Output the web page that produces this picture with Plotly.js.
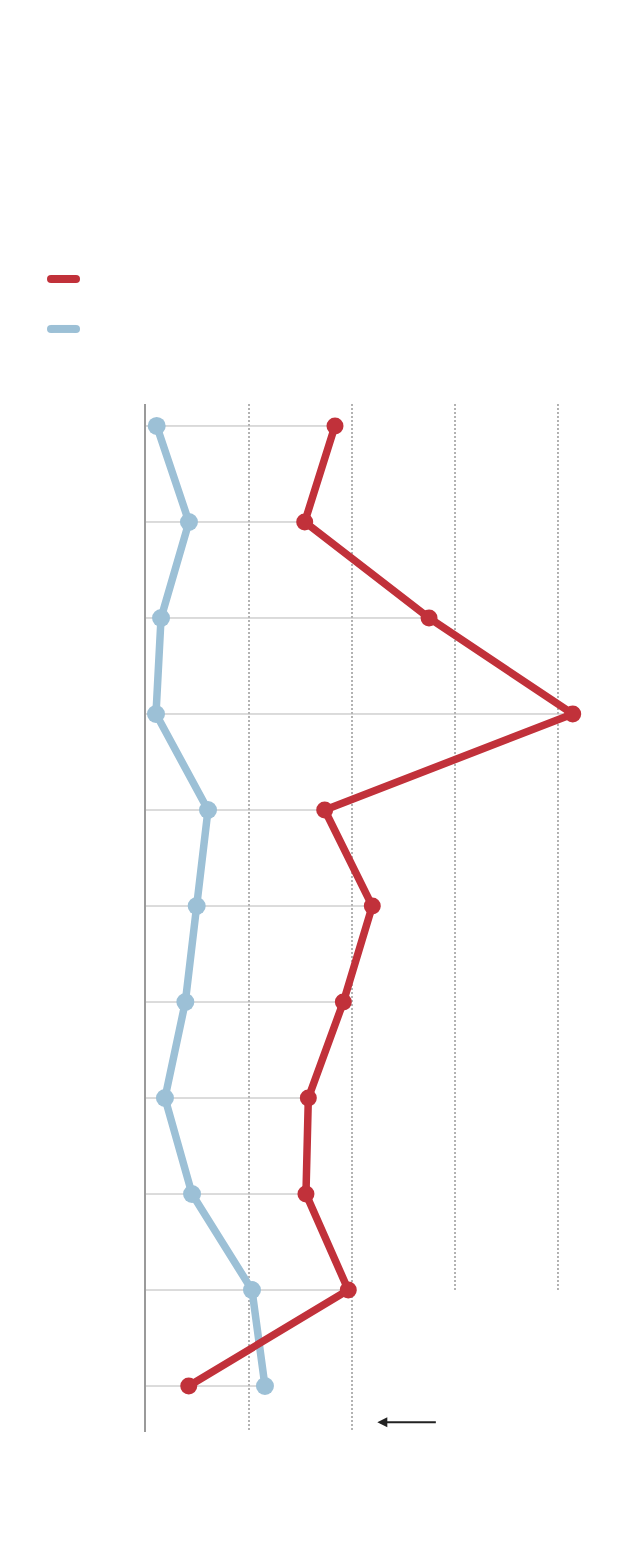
<!DOCTYPE html>
<html>
<head>
<meta charset="utf-8">
<script src="https://cdn.plot.ly/plotly-3.0.1.min.js"></script>
<style>html,body{margin:0;padding:0;background:#fff;}#chart{width:640px;height:1560px;}</style>
</head>
<body>
<div id="chart"></div>
<script>
// Row positions (top to bottom) – the reference shows no category labels
var rows = [0, 1, 2, 3, 4, 5, 6, 7, 8, 9, 10];
// Series values (units: one dotted gridline = 10)
var redValues  = [18.35, 15.41, 27.48, 41.43, 17.35, 21.97, 19.16, 15.76, 15.53, 19.64, 4.15];
var blueValues = [1.04, 4.17, 1.46, 0.97, 6.02, 4.92, 3.82, 1.84, 4.47, 10.29, 11.55];
// Dotted vertical gridlines
var gridValues = [10, 20, 30, 40];

var RED = '#c1313a';
var BLUE = '#9cc0d6';

// Horizontal connector gridlines from 0 to the larger of the two values per row
var gx = [], gy = [];
rows.forEach(function (r, i) {
  gx.push(0, Math.max(redValues[i], blueValues[i]), null);
  gy.push(r, r, null);
});

var yTop = -0.229, yBottom = 10.479;
var lastFullRow = 9;

var traces = [
  {x: gx, y: gy, mode: 'lines', line: {color: '#b8b8b8', width: 1},
   hoverinfo: 'skip', showlegend: false},
  {x: blueValues, y: rows, mode: 'lines+markers', name: '',
   line: {color: BLUE, width: 7.5}, marker: {color: BLUE, size: 18},
   showlegend: false},
  {x: redValues, y: rows, mode: 'lines+markers', name: '',
   line: {color: RED, width: 7.5}, marker: {color: RED, size: 17},
   showlegend: false}
];

var shapes = [];
gridValues.forEach(function (v) {
  shapes.push({
    type: 'line', xref: 'x', yref: 'y', layer: 'below',
    x0: v, x1: v, y0: yTop, y1: (v > 20 ? lastFullRow : yBottom),
    line: {color: '#666666', width: 1, dash: '2px,2px'}
  });
});

// Legend swatches (rounded bars)
function swatch(color, yPaper) {
  var base = {xref: 'paper', yref: 'paper', xsizemode: 'pixel', ysizemode: 'pixel',
              xanchor: 0, yanchor: yPaper, fillcolor: color, line: {width: 0}};
  shapes.push(Object.assign({type: 'rect', x0: -95, x1: -70, y0: -4, y1: 4}, base));
  shapes.push(Object.assign({type: 'circle', x0: -99, x1: -91, y0: -4, y1: 4}, base));
  shapes.push(Object.assign({type: 'circle', x0: -74, x1: -66, y0: -4, y1: 4}, base));
}
swatch(RED, 1.1216);
swatch(BLUE, 1.0730);

var layout = {
  width: 640, height: 1560,
  margin: {l: 146, r: 20, t: 404, b: 128},
  paper_bgcolor: '#ffffff', plot_bgcolor: '#ffffff',
  showlegend: false,
  xaxis: {range: [0, 46.02], showgrid: false, zeroline: false, showticklabels: false,
          ticks: '', showline: false, fixedrange: true},
  yaxis: {range: [yBottom, yTop], showgrid: false, zeroline: false, showticklabels: false,
          ticks: '', showline: true, linecolor: '#9a9a9a', linewidth: 2, fixedrange: true},
  shapes: shapes,
  annotations: [{
    xref: 'x', yref: 'y', x: 22.46, y: 10.378, text: '',
    showarrow: true, arrowhead: 2, arrowsize: 1, arrowwidth: 2, arrowcolor: '#222222',
    ax: 60, ay: 0, standoff: 0
  }]
};

Plotly.newPlot('chart', traces, layout, {displayModeBar: false, staticPlot: true});
</script>
</body>
</html>
